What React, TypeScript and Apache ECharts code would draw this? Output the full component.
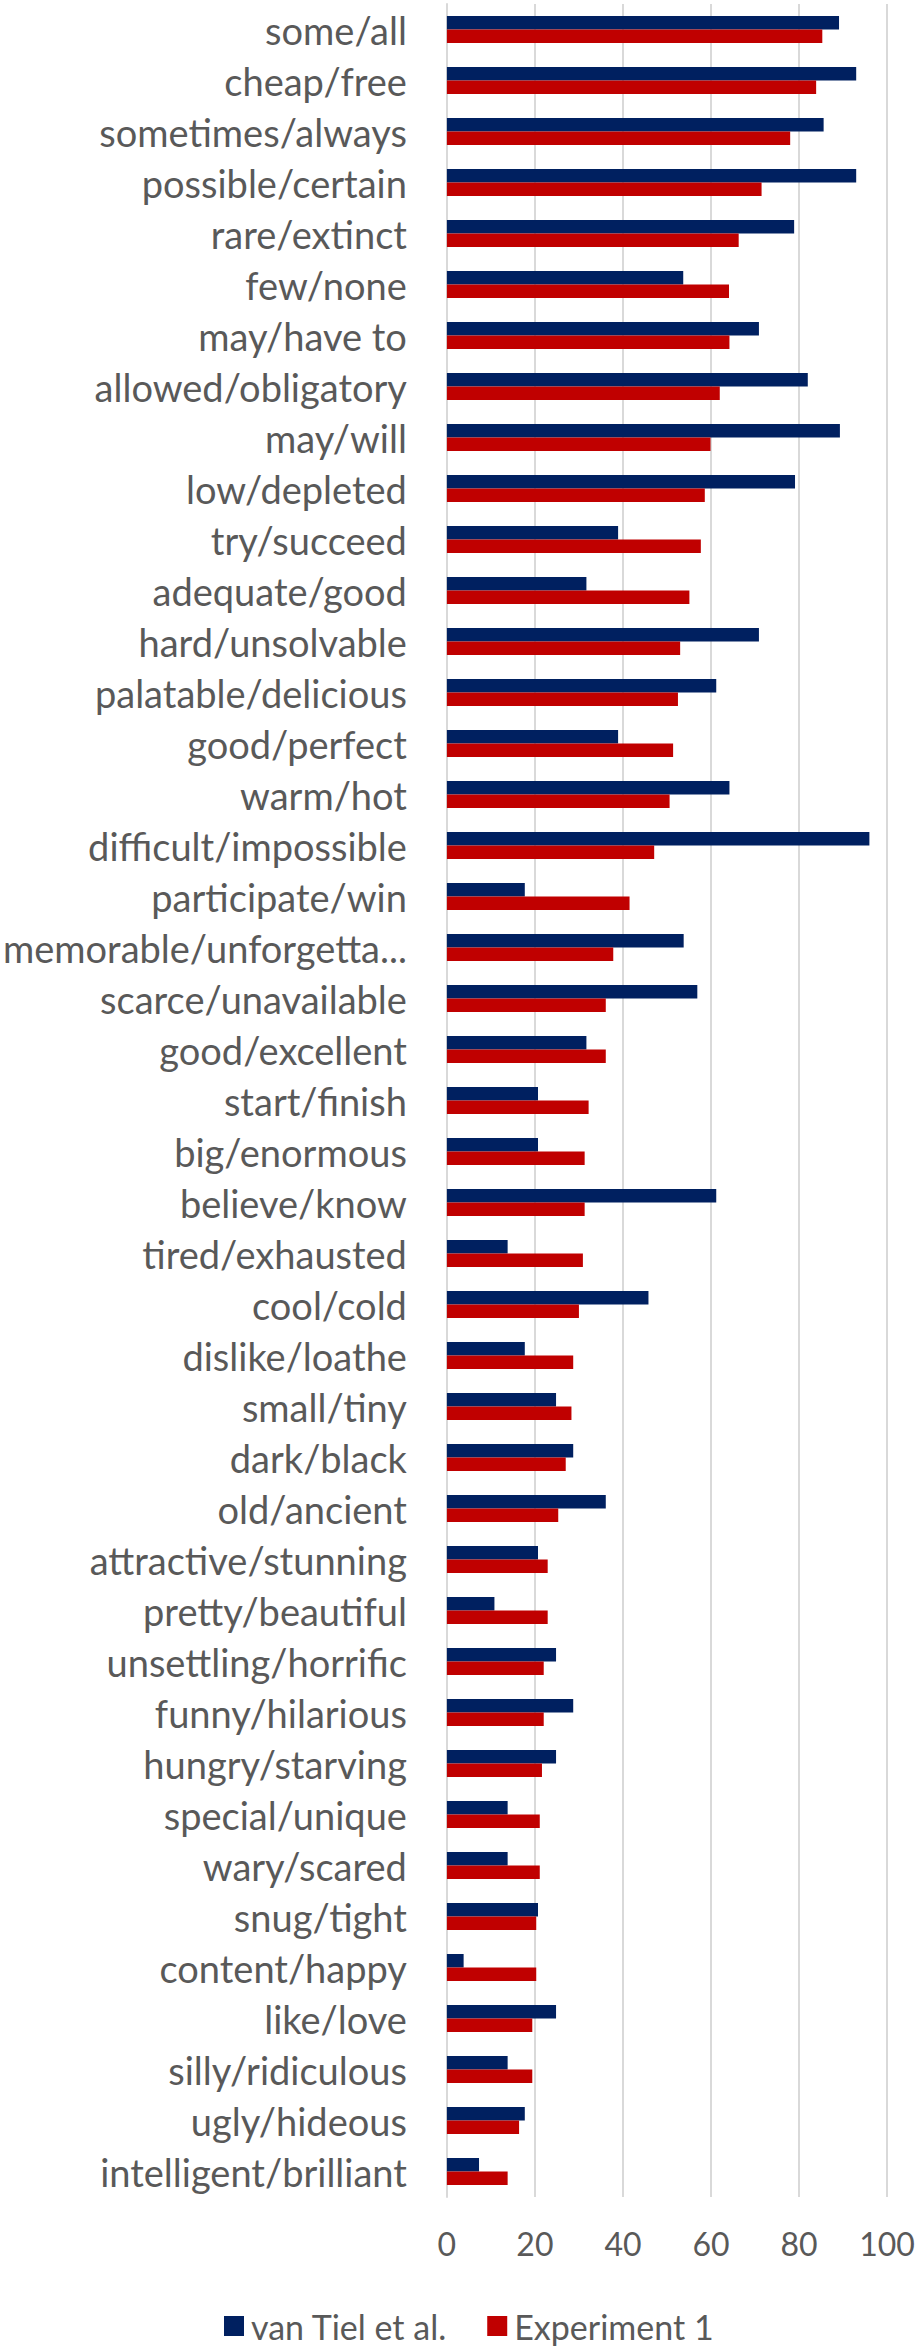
import React, { useEffect, useRef } from "react";
import * as echarts from "echarts";

const categories = [
  "some/all", "cheap/free", "sometimes/always", "possible/certain", "rare/extinct",
  "few/none", "may/have to", "allowed/obligatory", "may/will", "low/depleted",
  "try/succeed", "adequate/good", "hard/unsolvable", "palatable/delicious", "good/perfect",
  "warm/hot", "difficult/impossible", "participate/win", "memorable/unforgettable", "scarce/unavailable",
  "good/excellent", "start/finish", "big/enormous", "believe/know", "tired/exhausted",
  "cool/cold", "dislike/loathe", "small/tiny", "dark/black", "old/ancient",
  "attractive/stunning", "pretty/beautiful", "unsettling/horrific", "funny/hilarious", "hungry/starving",
  "special/unique", "wary/scared", "snug/tight", "content/happy", "like/love",
  "silly/ridiculous", "ugly/hideous", "intelligent/brilliant",
];

const vanTiel = [
  89.1, 93.0, 85.6, 93.0, 78.9,
  53.7, 70.9, 82.0, 89.3, 79.1,
  38.9, 31.7, 70.9, 61.2, 38.9,
  64.2, 96.0, 17.7, 53.8, 56.9,
  31.7, 20.7, 20.7, 61.2, 13.8,
  45.8, 17.7, 24.8, 28.7, 36.1,
  20.7, 10.8, 24.8, 28.7, 24.8,
  13.8, 13.8, 20.7, 3.8, 24.8,
  13.8, 17.7, 7.3,
];

const experiment1 = [
  85.3, 83.9, 78.0, 71.5, 66.3,
  64.1, 64.2, 62.0, 59.9, 58.6,
  57.7, 55.1, 53.0, 52.5, 51.4,
  50.6, 47.1, 41.5, 37.8, 36.1,
  36.1, 32.2, 31.3, 31.3, 30.9,
  30.0, 28.7, 28.3, 27.0, 25.3,
  22.9, 22.9, 22.0, 22.0, 21.6,
  21.1, 21.1, 20.3, 20.3, 19.4,
  19.4, 16.4, 13.8,
];

const seriesNames = ["van Tiel et al.", "Experiment 1"];
const seriesColors = ["#002060", "#C00000"];

const FONT = "Lato, 'Noto Sans', sans-serif";
const TEXT = "#595959";
const GRID = "#d9d9d9";

export default function App() {
  const ref = useRef<HTMLDivElement>(null);

  useEffect(() => {
    document.body.style.margin = "0";
    if (!ref.current) return;
    const chart = echarts.init(ref.current, undefined, { renderer: "svg" });
    chart.setOption({
      animation: false,
      backgroundColor: "#ffffff",
      textStyle: { fontFamily: FONT },
      grid: { left: 425, right: 33, top: 4, bottom: 151, containLabel: false },
      legend: {
        left: 219,
        bottom: 0,
        itemWidth: 20,
        itemHeight: 20,
        itemGap: 40,
        icon: "rect",
        textStyle: { fontFamily: FONT, fontSize: 34, color: TEXT, padding: [0, 0, 0, 2] },
        data: seriesNames,
      },
      xAxis: {
        type: "value",
        min: 0,
        max: 100,
        interval: 20,
        axisLine: { show: false },
        axisTick: { show: false },
        axisLabel: { fontFamily: FONT, fontSize: 32, color: TEXT, margin: 30 },
        splitLine: { show: true, lineStyle: { color: GRID, width: 2 } },
      },
      yAxis: {
        type: "category",
        inverse: true,
        data: categories,
        axisLine: { show: true, lineStyle: { color: GRID, width: 2 } },
        axisTick: { show: false },
        axisLabel: {
          fontFamily: FONT,
          fontSize: 38,
          color: TEXT,
          margin: 40,
          formatter: (v: string) => (v.length > 21 ? v.slice(0, 20) + "..." : v),
        },
      },
      series: [
        {
          name: seriesNames[0],
          type: "bar",
          data: vanTiel,
          barWidth: 13.5,
          barGap: "0%",
          itemStyle: { color: seriesColors[0] },
        },
        {
          name: seriesNames[1],
          type: "bar",
          data: experiment1,
          barWidth: 13.5,
          barGap: "0%",
          itemStyle: { color: seriesColors[1] },
        },
      ],
    });
    return () => chart.dispose();
  }, []);

  return <div ref={ref} style={{ width: 920, height: 2348 }} />;
}
